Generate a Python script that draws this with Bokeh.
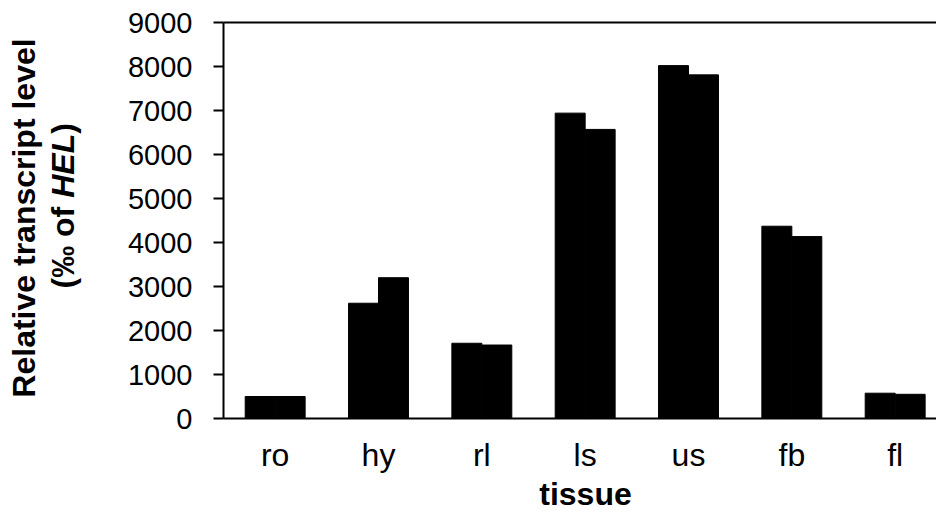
import math

from bokeh.core.properties import value
from bokeh.embed import file_html
from bokeh.layouts import column, row
from bokeh.models import ColumnDataSource, FixedTicker, LinearAxis, Range1d
from bokeh.plotting import figure
from bokeh.resources import INLINE

# Relative transcript level per tissue, two replicate series
tissues = ["ro", "hy", "rl", "ls", "us", "fb", "fl"]
series_a = [500, 2620, 1710, 6940, 8020, 4370, 575]
series_b = [500, 3200, 1670, 6570, 7810, 4135, 550]
y_ticks = [0, 1000, 2000, 3000, 4000, 5000, 6000, 7000, 8000, 9000]

FONT = "Liberation Sans"
BAR_W = 0.29

# Page: y-title strip on the left, chart and x-title strip stacked on the right
W, H = 936, 512
STRIP_W = 100
CHART_W = W - STRIP_W
CHART_H = 476
XTITLE_H = H - CHART_H
FRAME_LEFT = 123       # inside the chart figure
FRAME_TOP = 22
FRAME_BOTTOM_PAD = CHART_H - 418
FRAME_W = CHART_W - FRAME_LEFT
MID = 12               # distance from a 32px line's middle to its baseline

idx = list(range(len(tissues)))
src = ColumnDataSource(dict(
    xa=[i - BAR_W / 2 for i in idx],
    xb=[i + BAR_W / 2 for i in idx],
    a=series_a,
    b=series_b,
))


def blank(width, height, xr):
    """Axis-less figure whose data units are plain pixels."""
    f = figure(width=width, height=height,
               x_range=Range1d(0, xr), y_range=Range1d(0, height),
               x_axis_type=None, y_axis_type=None,
               output_backend="svg", toolbar_location=None,
               min_border=0, min_border_left=0, min_border_right=0,
               min_border_top=0, min_border_bottom=0)
    f.grid.visible = False
    f.outline_line_color = None
    f.background_fill_color = "white"
    f.border_fill_color = "white"
    return f


# ---- main chart ----
p = figure(
    width=CHART_W, height=CHART_H,
    x_range=Range1d(-0.5, 6.4), y_range=Range1d(0, 9000),
    output_backend="svg", toolbar_location=None,
    min_border_left=FRAME_LEFT, min_border_right=0,
    min_border_top=FRAME_TOP, min_border_bottom=FRAME_BOTTOM_PAD,
)
p.outline_line_color = None
p.xgrid.grid_line_color = None
p.ygrid.grid_line_color = None
p.background_fill_color = "white"
p.border_fill_color = "white"

p.vbar(x="xa", top="a", bottom=0, width=BAR_W, source=src,
       fill_color="black", line_color="black")
p.vbar(x="xb", top="b", bottom=0, width=BAR_W, source=src,
       fill_color="black", line_color="black")

ya = p.yaxis[0]
ya.ticker = FixedTicker(ticks=y_ticks)
ya.axis_line_width = 2
ya.axis_line_color = "black"
ya.major_tick_line_width = 2
ya.major_tick_line_color = "black"
ya.major_tick_out = 10
ya.major_tick_in = 0
ya.minor_tick_out = 0
ya.minor_tick_in = 0
ya.major_label_standoff = 21
ya.major_label_text_font = FONT
ya.major_label_text_font_size = "29px"
ya.major_label_text_color = "black"

xa = p.xaxis[0]
xa.ticker = FixedTicker(ticks=idx)
xa.major_label_overrides = {i: t for i, t in zip(idx, tissues)}
xa.axis_line_width = 2
xa.axis_line_color = "black"
xa.major_tick_line_color = None
xa.major_tick_out = 0
xa.major_tick_in = 0
xa.minor_tick_out = 0
xa.minor_tick_in = 0
xa.major_label_standoff = 18
xa.major_label_text_font = FONT
xa.major_label_text_font_size = "32px"
xa.major_label_text_color = "black"

# top border line
top_axis = LinearAxis(
    ticker=FixedTicker(ticks=[]),
    axis_line_width=2, axis_line_color="black",
    major_tick_out=0, major_tick_in=0, minor_tick_out=0, minor_tick_in=0,
    major_label_text_font_size="0px",
)
p.add_layout(top_axis, "above")

# ---- x title strip (its frame lines up with the chart frame) ----
xt = blank(CHART_W, XTITLE_H, FRAME_W)
xt.text(x=[362], y=[7 + MID], text=["tissue"], text_align="center",
        text_baseline="middle", text_font=value(FONT),
        text_font_size="32px", text_font_style=value("bold"), text_color="black")

# ---- y title strip (two lines, gene name in italics) ----
yt = blank(STRIP_W, H, STRIP_W)
kw = dict(angle=math.pi / 2, text_font=value(FONT), text_font_size="32px",
          text_color="black", text_baseline="middle")
yt.text(x=[35 - MID], y=[H - 217.5], text=["Relative transcript level"],
        text_align="center", text_font_style=value("bold"), **kw)
yt.text(x=[74 - MID], y=[H - 288], text=["(\u2030 of"],
        text_align="left", text_font_style=value("bold"), **kw)
yt.text(x=[74 - MID], y=[H - 197.3], text=["HEL"],
        text_align="left", text_font_style=value("bold italic"), **kw)
yt.text(x=[74 - MID], y=[H - 133.3], text=[")"],
        text_align="left", text_font_style=value("bold"), **kw)

page = row(yt, column(p, xt, spacing=0), spacing=0)

open("out.html", "w").write(file_html(page, INLINE))
